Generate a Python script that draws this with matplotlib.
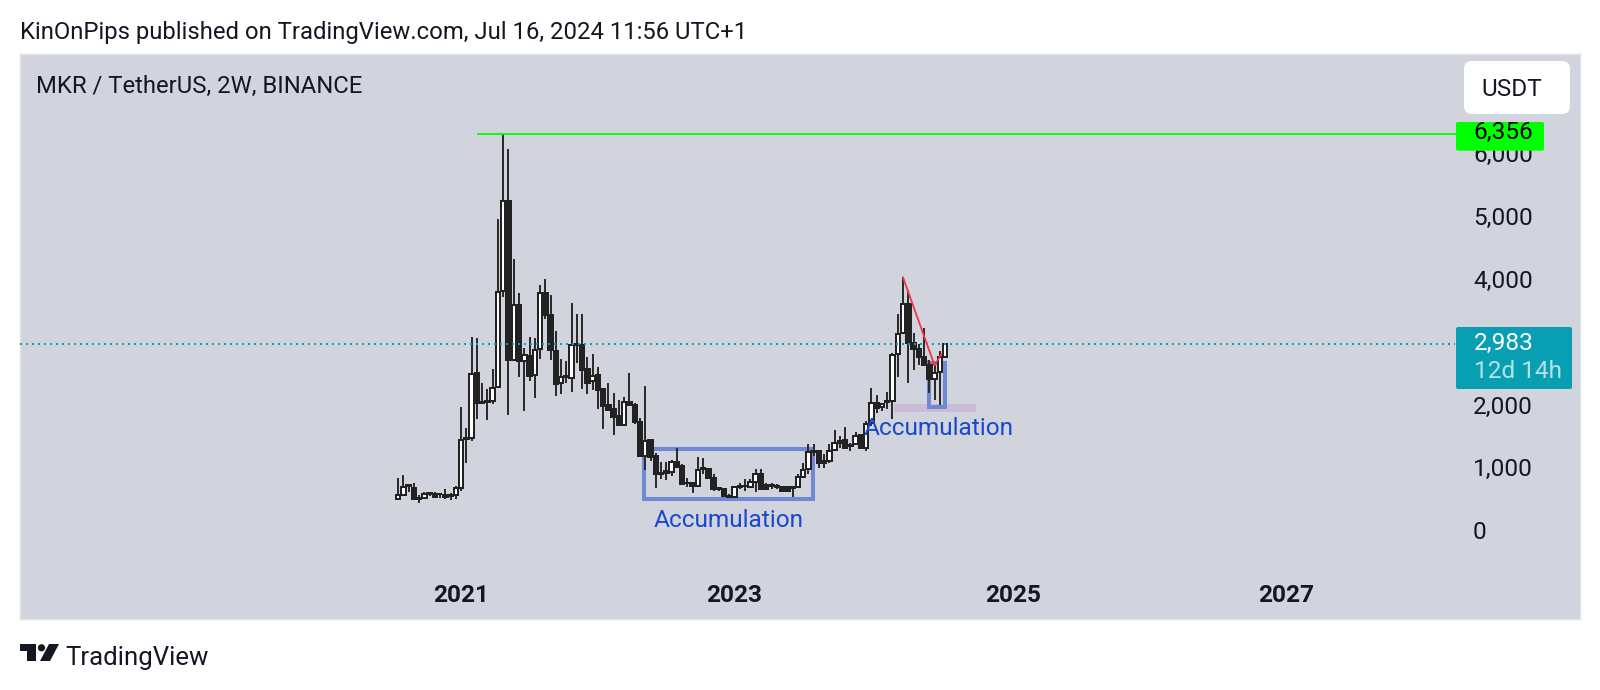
import matplotlib
matplotlib.use("Agg")
import matplotlib.pyplot as plt
from matplotlib.patches import FancyBboxPatch, Polygon, Circle, Rectangle
from matplotlib.transforms import Affine2D, ScaledTranslation

plt.rcParams['font.family'] = ['Roboto', 'DejaVu Sans']

# Two-week candles, oldest first
opens = [492,557,690,669,495,498,565,567,560,546,535,546,669,1450,1473,2518,2036,2050,2057,2283,3826,5279,2717,3606,2706,2786,2476,2894,3799,3451,2872,
         2347,2445,2438,2963,2958,2583,2379,2476,2251,1993,1929,1816,1682,2052,2004,1731,1179,1431,1179,890,900,922,1088,1013,740,750,697,975,975,831,650,643,525,514,685,690,675,761,884,713,700,685,680,675,672,675,847,965,1240,1259,
         1099,1099,1270,1395,1431,1340,1377,1511,1313,1704,2031,1965,2045,2063,2813,3151,3628,2990,2904,2776,2637,2422,2535,2770]
highs = [830,868,723,739,546,605,589,605,578,642,578,691,1972,1634,3097,3081,2358,2261,2583,4984,6356,6120,4341,3805,2910,3097,3081,3923,4019,3762,3183,
         2733,2701,3633,3457,3457,2765,2813,2604,2267,2358,2186,2074,2122,2508,2036,1795,2299,1447,1222,1088,1088,1115,1302,1045,831,750,1168,1141,975,884,670,643,563,697,739,815,804,975,975,739,739,723,691,697,680,895,1072,1367,1367,1275,
         1206,1367,1592,1501,1651,1394,1565,1511,1742,2267,2155,2037,2208,2840,3467,4050,3848,3151,2974,3231,2722,2679,2867,3001]
lows = [492,557,600,492,417,498,535,503,498,482,466,482,616,1060,1420,1768,2020,1752,2009,2283,3735,1832,2717,2449,1897,2384,2106,2733,3376,2717,2143,
        2170,2358,2208,2669,2251,2170,2240,1929,1607,1918,1516,1677,1682,2004,1688,1179,954,1099,659,804,793,857,1007,734,680,584,697,884,831,616,616,536,509,514,643,616,659,600,654,632,654,643,605,605,520,675,831,895,1179,991,
        992,1072,1260,1313,1297,1260,1367,1302,1260,1662,1876,1903,1930,1768,2449,3135,2358,2561,2637,2637,2186,2079,1999,2754]
closes = [551,680,705,492,505,562,578,519,567,524,557,669,1436,1470,2492,2036,2050,2065,2272,3815,5279,2717,3606,2701,2797,2465,2883,3799,3451,2878,2342,
          2454,2465,2963,2974,2561,2358,2465,2240,1983,1918,1806,1677,2047,2004,1725,1179,1420,1168,895,900,938,1083,1007,734,750,697,954,986,831,654,659,536,536,680,697,700,766,884,654,643,707,691,611,611,680,841,954,1243,1259,1072,
        1072,1260,1394,1420,1313,1351,1501,1313,1699,2031,1956,2010,2058,2797,3135,3623,3001,2904,2776,2637,2422,2519,2770,2983]

year_labels = ['2021', '2023', '2025', '2027']
year_positions = [11.9, 63.8, 117.0, 168.9]
price_ticks = [0, 1000, 2000, 3000, 4000, 5000, 6000]
price_labels = ['0', '1,000', '2,000', '3,000', '4,000', '5,000', '6,000']

high_price = 6356
last_price = 2983
box_one = (46.85, 78.85, 482, 1286)
box_two = (100.9, 104.0, 1960, 2669)
support_zone = (94.3, 109.9, 1881, 2010)
red_x = [96, 102, 103.3]
red_y = [4050, 2636, 2813]
red_short_x = [100, 102]
red_short_y = [2733, 2636]

INK = '#131722'
PANEL = '#d1d4dc'
DARK = '#222222'
BLUE = '#7089d6'
TEAL = '#089fb3'
GREEN = '#00ff00'
FS = 17.6

fig = plt.figure(figsize=(16, 6.9), dpi=100, facecolor='white')
ax = fig.add_axes([19.5/1600, (690-619)/690, 1560.5/1600, 565.5/690], facecolor=PANEL)
ax.set_xlim(-71.96, 224.7)
ax.set_ylim(-1442, 7650)
for s in ax.spines.values():
    s.set_color('#e0e3eb')
    s.set_linewidth(1)

px = Affine2D().scale(1, -1).translate(0, 690)

# Boxes below the candles
for x0, x1, y0, y1 in (box_one, box_two):
    ax.add_patch(Rectangle((x0, y0), x1-x0, y1-y0, fill=False, edgecolor=BLUE, linewidth=2.9, zorder=1.5))
z0, z1, z2, z3 = support_zone
ax.add_patch(Rectangle((z0, z2), z1-z0, z3-z2, facecolor='#c9bcd8', edgecolor='none', zorder=1.2))

# Candles
idx = list(range(len(opens)))
ax.vlines(idx, lows, highs, color='#2c2c2c', linewidth=1.44, zorder=2)
for i, o, c in zip(idx, opens, closes):
    up = c >= o
    ax.bar(i, abs(c-o), bottom=min(o, c), width=0.85, color='white' if up else DARK,
           edgecolor=DARK, linewidth=1.44, zorder=3)

# Price lines
ax.plot([15, 201.2], [high_price]*2, color=GREEN, linewidth=1.3, zorder=4, solid_capstyle='butt')
ax.plot([-71.96, 201], [last_price]*2, color=TEAL, linewidth=1.44, linestyle=(0, (1, 2)), zorder=4)
ax.plot(red_x, red_y, color='#f23645', linewidth=1.3, zorder=4)
ax.plot(red_short_x, red_short_y, color='#f23645', linewidth=0.9, zorder=1.8)

# Axes
ax.set_xticks(year_positions, year_labels)
ax.set_yticks(price_ticks, price_labels)
ax.tick_params(axis='x', length=0, pad=-25.5, labelsize=FS, labelcolor=INK)
for t in ax.get_xticklabels():
    t.set_fontweight('bold')
ax.tick_params(axis='y', length=0, left=False, labelleft=False, right=False, labelright=True,
               pad=-77, labelsize=FS, labelcolor=INK)
for value, t in zip(price_ticks, ax.yaxis.get_ticklabels(which='major')):
    pass
for tick, value in zip(ax.yaxis.get_major_ticks(), price_ticks):
    nudge = (-1 + value / 6000 * 4) / 100
    tick.label2.set_verticalalignment('center_baseline')
    tick.label2.set_transform(tick.label2.get_transform() + ScaledTranslation(0, nudge, fig.dpi_scale_trans))

# Annotations
ax.text(62.9, 145, 'Accumulation', color='#1848cc', fontsize=FS, ha='center', va='center', zorder=5, clip_on=False)
ax.text(102.8, 1615, 'Accumulation', color='#1848cc', fontsize=FS, ha='center', va='center', zorder=5)

fig.text(20.5/1600, 1-33/690, 'KinOnPips published on TradingView.com, Jul 16, 2024 11:56 UTC+1', fontsize=17.2, color=INK, va='center')
fig.text(36/1600, 1-86/690, 'MKR / TetherUS, 2W, BINANCE', fontsize=17.2, color=INK, va='center')

# USDT button and price tags
fig.add_artist(FancyBboxPatch((1468, 65), 98, 45, boxstyle='round,pad=4,rounding_size=8', facecolor='white', edgecolor='none', transform=px))
fig.text(1512/1600, 1-89/690, 'USDT', fontsize=FS, color=INK, ha='center', va='center')
fig.add_artist(FancyBboxPatch((1456, 122), 88, 28.7, boxstyle='round,pad=0,rounding_size=2', facecolor=GREEN, edgecolor='none', transform=px, zorder=6))
fig.text(1473.5/1600, 1-132/690, '6,356', fontsize=FS, color='black', va='center', zorder=7)
fig.add_artist(FancyBboxPatch((1456, 327), 116, 62, boxstyle='round,pad=0,rounding_size=2', facecolor=TEAL, edgecolor='none', transform=px, zorder=6))
fig.text(1474/1600, 1-343/690, '2,983', fontsize=FS, color='white', va='center', zorder=7)
fig.text(1474/1600, 1-371/690, '12d 14h', fontsize=FS, color='#b5e2e8', va='center', zorder=7)

# Logo
fig.add_artist(Polygon([(20, 644), (36, 644), (36, 661), (27, 661), (27, 651), (20, 651)], closed=True, facecolor=INK, edgecolor='none', transform=px))
fig.add_artist(Circle((41.5, 647.8), 3.6, facecolor=INK, edgecolor='none', transform=px))
fig.add_artist(Polygon([(49, 644), (59, 644), (50, 661), (40, 661)], closed=True, facecolor=INK, edgecolor='none', transform=px))
fig.text(65.5/1600, 1-658/690, 'TradingView', fontsize=18.5, color=INK, va='center')

fig.savefig('out.png', dpi=100)
